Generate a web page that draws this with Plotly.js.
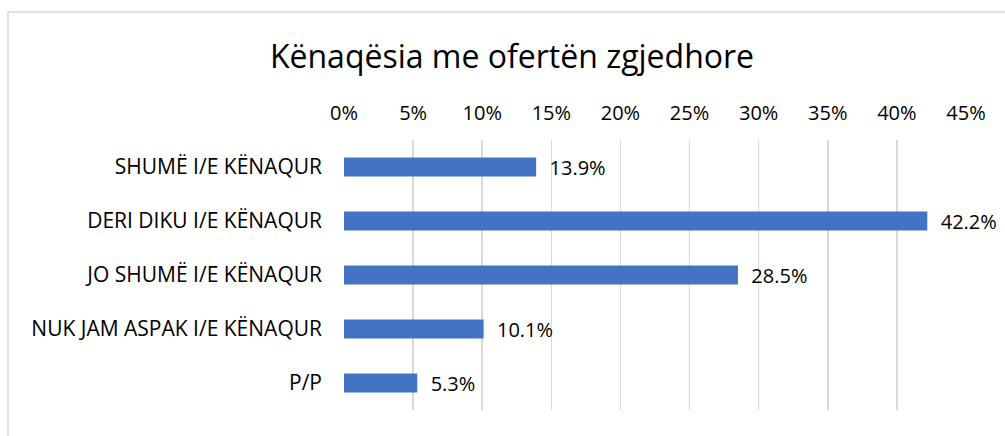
<!DOCTYPE html>
<html>
<head>
<meta charset="utf-8">
<script src="https://cdn.plot.ly/plotly-3.0.1.min.js"></script>
<style>
  html, body { margin: 0; padding: 0; background: #fff; }
  #chart { width: 1005px; height: 436px; }
</style>
</head>
<body>
<div id="chart"></div>
<script>
const chartTitle = "Kënaqësia me ofertën zgjedhore";
const categories = [
  "SHUMË I/E KËNAQUR",
  "DERI DIKU I/E KËNAQUR",
  "JO SHUMË I/E KËNAQUR",
  "NUK JAM ASPAK I/E KËNAQUR",
  "P/P"
];
const values = [13.9, 42.2, 28.5, 10.1, 5.3];
const tickValues = [0, 5, 10, 15, 20, 25, 30, 35, 40, 45];
const tickLabels = ["0%", "5%", "10%", "15%", "20%", "25%", "30%", "35%", "40%", "45%"];

const FONT = "'Open Sans', 'Noto Sans', sans-serif";

// plot area in pixels
const L = 344, R = 39, T = 140, B = 26, W = 1005, H = 436;
const pw = W - L - R, ph = H - T - B;
const px = x => (x - L) / pw;
const py = y => (H - B - y) / ph;

const trace = {
  type: "bar",
  orientation: "h",
  y: categories,
  x: values,
  text: values.map(v => "\u00a0\u00a0" + v.toFixed(1) + "%"),
  textposition: "outside",
  constraintext: "none",
  cliponaxis: false,
  textfont: { family: FONT, size: 20, color: "#000" },
  marker: { color: "#4472C4", line: { width: 0 } },
  width: 0.35,
  hoverinfo: "skip"
};

const layout = {
  width: W, height: H,
  margin: { l: L, r: R, t: T, b: B, pad: 0 },
  paper_bgcolor: "#fff",
  plot_bgcolor: "#fff",
  showlegend: false,
  font: { family: FONT, color: "#000" },
  title: {
    text: chartTitle,
    font: { family: FONT, size: 32, color: "#000" },
    x: 512 / W, xanchor: "center", xref: "container",
    y: 1 - 57 / H, yanchor: "middle", yref: "container"
  },
  xaxis: {
    side: "top",
    range: [0, 45],
    tickmode: "array",
    tickvals: tickValues,
    ticktext: tickLabels,
    showgrid: true,
    gridcolor: "#d9d9d9",
    gridwidth: 1.6,
    zeroline: false,
    showline: false,
    ticks: "",
    ticklabelstandoff: 15,
    tickfont: { family: FONT, size: 20, color: "#000" },
    fixedrange: true
  },
  yaxis: {
    autorange: "reversed",
    showgrid: false,
    zeroline: false,
    showline: false,
    ticks: "",
    ticklabelstandoff: 21,
    tickfont: { family: FONT, size: 21, color: "#000" },
    fixedrange: true
  },
  shapes: [
    { type: "line", xref: "paper", yref: "paper",
      x0: px(8), x1: px(1010), y0: py(12), y1: py(12),
      line: { color: "#d9d9d9", width: 1.5 } },
    { type: "line", xref: "paper", yref: "paper",
      x0: px(8), x1: px(8), y0: py(12), y1: py(440),
      line: { color: "#d9d9d9", width: 1.5 } }
  ]
};

Plotly.newPlot("chart", [trace], layout, { displayModeBar: false, staticPlot: true });
</script>
</body>
</html>
